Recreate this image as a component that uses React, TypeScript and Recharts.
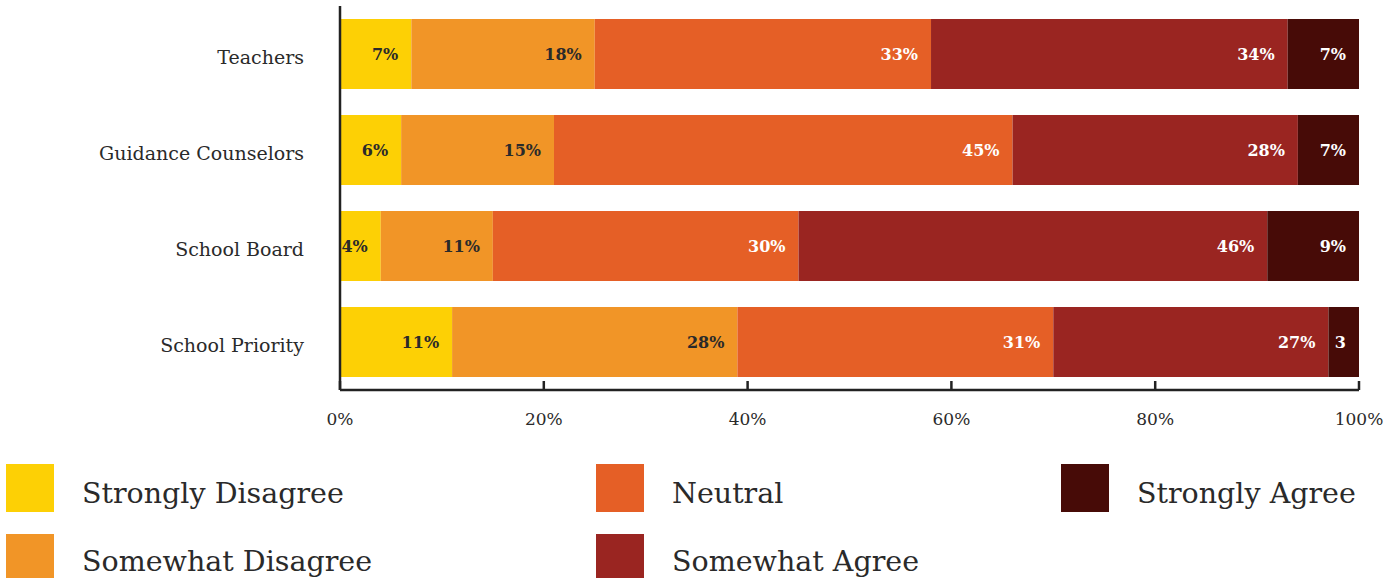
import React from 'react';
import { BarChart, Bar, XAxis, YAxis, LabelList } from 'recharts';

const categories = ['Teachers', 'Guidance Counselors', 'School Board', 'School Priority'];
const seriesNames = ['Strongly Disagree', 'Somewhat Disagree', 'Neutral', 'Somewhat Agree', 'Strongly Agree'];
const stronglyDisagree = [7, 6, 4, 11];
const somewhatDisagree = [18, 15, 11, 28];
const neutral = [33, 45, 30, 31];
const somewhatAgree = [35, 28, 46, 27];
const stronglyAgree = [7, 6, 9, 3];
const stronglyDisagreeLabels = ['7%', '6%', '4%', '11%'];
const somewhatDisagreeLabels = ['18%', '15%', '11%', '28%'];
const neutralLabels = ['33%', '45%', '30%', '31%'];
const somewhatAgreeLabels = ['34%', '28%', '46%', '27%'];
const stronglyAgreeLabels = ['7%', '7%', '9%', '3'];
const xTicks = [0, 20, 40, 60, 80, 100];

const colors = ['#FDD005', '#F19527', '#E55F26', '#9A2521', '#470B07'];
const labelColors = ['#2a2a2a', '#2a2a2a', '#ffffff', '#ffffff', '#ffffff'];
const FONT = '"DejaVu Serif", serif';
const INK = '#2a2a2a';

const valueSets = [stronglyDisagree, somewhatDisagree, neutral, somewhatAgree, stronglyAgree];
const labelSets = [stronglyDisagreeLabels, somewhatDisagreeLabels, neutralLabels, somewhatAgreeLabels, stronglyAgreeLabels];

const data = categories.map((name, i) => {
  const row: Record<string, string | number> = { name };
  valueSets.forEach((vals, s) => {
    row['s' + s] = vals[i];
    row['l' + s] = labelSets[s][i];
  });
  return row;
});

const XTick = (props: any) => {
  const { x, y, payload } = props;
  return (
    <g>
      <line x1={x} x2={x} y1={y - 9} y2={y} stroke="#222" strokeWidth={2.5} />
      <text x={x} y={y + 35} textAnchor="middle" fontFamily={FONT} fontSize={17} fill={INK}>
        {payload.value + '%'}
      </text>
    </g>
  );
};

const YTick = (props: any) => {
  const { x, y, payload } = props;
  return (
    <text x={x} y={y + 10} textAnchor="end" fontFamily={FONT} fontSize={19} fill={INK}>
      {payload.value}
    </text>
  );
};

const legendCols = [6, 596, 1061];

export default function App() {
  return (
    <div style={{ position: 'fixed', left: 0, top: 0, width: 1395, height: 578, overflow: 'hidden', background: '#fff' }}>
      <BarChart
        width={1395}
        height={440}
        data={data}
        layout="vertical"
        margin={{ top: 6, right: 36, bottom: 0, left: 0 }}
        barSize={70}
      >
        <XAxis
          type="number"
          domain={[0, 100]}
          ticks={xTicks}
          height={50}
          tickSize={0}
          tickMargin={0}
          tickLine={false}
          axisLine={{ stroke: '#222', strokeWidth: 2.5 }}
          tick={<XTick />}
          interval={0}
        />
        <YAxis
          type="category"
          dataKey="name"
          width={340}
          tickSize={0}
          tickMargin={36}
          tickLine={false}
          axisLine={{ stroke: '#222', strokeWidth: 2.5 }}
          tick={<YTick />}
        />
        {seriesNames.map((n, s) => (
          <Bar key={n} dataKey={'s' + s} name={n} stackId="a" fill={colors[s]} isAnimationActive={false}>
            <LabelList
              dataKey={'l' + s}
              position="insideRight"
              offset={13}
              fill={labelColors[s]}
              fontFamily={FONT}
              fontSize={16}
              fontWeight={600}
            />
          </Bar>
        ))}
      </BarChart>
      <div style={{ position: 'absolute', left: 0, top: 440, width: 1395, height: 138 }}>
        {seriesNames.map((n, s) => {
          const col = Math.floor(s / 2);
          const row = s % 2;
          const left = legendCols[col];
          return (
            <React.Fragment key={n}>
              <div
                style={{
                  position: 'absolute',
                  left,
                  top: 24 + row * 70,
                  width: 48,
                  height: 48,
                  background: colors[s],
                }}
              />
              <div
                style={{
                  position: 'absolute',
                  left: left + 76,
                  top: 40 + row * 68,
                  fontFamily: FONT,
                  fontSize: 28.5,
                  lineHeight: '28px',
                  color: INK,
                  whiteSpace: 'nowrap',
                }}
              >
                {n}
              </div>
            </React.Fragment>
          );
        })}
      </div>
    </div>
  );
}
